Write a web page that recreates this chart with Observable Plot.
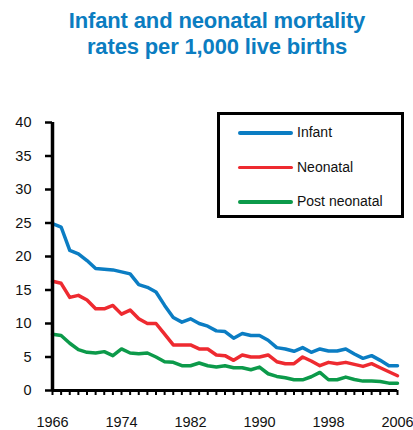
<!DOCTYPE html>
<html>
<head>
<meta charset="utf-8">
<script src="https://cdn.jsdelivr.net/npm/d3@7"></script>
<script src="https://cdn.jsdelivr.net/npm/@observablehq/plot@0.6"></script>
<style>
  html, body { margin: 0; padding: 0; background: #fff; }
  #wrap { position: relative; width: 413px; height: 430px; font-family: "Liberation Sans", Arial, sans-serif; }
  #title { position: absolute; left: 0; top: 8px; width: 434px; text-align: center; color: #0b7dc1;
           font-weight: bold; font-size: 22px; line-height: 26px; letter-spacing: -0.15px; }
  #legend { position: absolute; left: 217px; top: 112px; width: 181px; height: 100px;
            border: 3px solid #000; background: #fff; }
  .item { position: absolute; left: 18px; height: 20px; }
  .swatch { position: absolute; left: 0; top: 8px; width: 55px; height: 3.5px; border-radius: 2px; }
  .lab { position: absolute; left: 59px; top: 1px; font-size: 14px; white-space: nowrap; color: #111; }
  #chart { position: absolute; left: 0; top: 0; }
</style>
</head>
<body>
<div id="wrap">
  <div id="chart"></div>
  <div id="title"></div>
  <div id="legend"></div>
</div>
<script>
const titleLines = ["Infant and neonatal mortality", "rates per 1,000 live births"];
const years = [1966,1967,1968,1969,1970,1971,1972,1973,1974,1975,1976,1977,1978,1979,1980,
  1981,1982,1983,1984,1985,1986,1987,1988,1989,1990,1991,1992,1993,1994,1995,1996,1997,1998,
  1999,2000,2001,2002,2003,2004,2005,2006];
const infant = [24.9,24.4,20.9,20.4,19.4,18.2,18.1,18.0,17.7,17.4,15.8,15.4,14.7,12.7,10.9,10.2,10.7,10.0,9.6,
  8.9,8.8,7.8,8.5,8.2,8.2,7.5,6.4,6.2,5.85,6.4,5.7,6.2,5.9,5.9,6.2,5.45,4.8,5.2,4.5,3.7,3.7];
const neonatal = [16.3,16.0,13.9,14.2,13.5,12.2,12.2,12.7,11.4,12.0,10.7,10.0,10.0,8.4,6.8,6.8,6.8,6.2,6.2,5.3,
  5.2,4.5,5.3,5.0,5.0,5.3,4.3,4.0,4.0,5.0,4.4,3.7,4.2,4.0,4.2,3.9,3.6,4.0,3.4,2.8,2.2];
const postNeonatal = [8.4,8.2,7.05,6.1,5.7,5.6,5.8,5.2,6.2,5.6,5.5,5.6,5.0,4.3,4.2,3.7,3.7,4.1,3.7,3.5,
  3.7,3.4,3.4,3.1,3.5,2.5,2.1,1.9,1.6,1.6,2.05,2.7,1.6,1.6,2.0,1.65,1.4,1.4,1.35,1.1,1.1];
const seriesNames = ["Infant", "Neonatal", "Post neonatal"];
const seriesColors = ["#0b7dc3", "#ee2a30", "#0c9a4a"];
const yTicks = [0,5,10,15,20,25,30,35,40];
const xLabelYears = [1966,1974,1982,1990,1998,2006];

const seriesValues = [infant, neonatal, postNeonatal];
const rows = [];
seriesNames.forEach((name, i) => {
  years.forEach((yr, j) => rows.push({series: name, year: yr, value: seriesValues[i][j]}));
});

const chart = Plot.plot({
  width: 413,
  height: 430,
  marginTop: 122,
  marginBottom: 40,
  marginLeft: 52,
  marginRight: 16,
  style: {fontFamily: "'Liberation Sans', Arial, sans-serif", fontSize: "14.5px", color: "#111", background: "transparent", overflow: "visible"},
  x: {domain: [1966, 2006]},
  y: {domain: [0, 40]},
  color: {domain: seriesNames, range: seriesColors},
  marks: [
    Plot.axisY({ticks: yTicks, tickSize: 7, tickPadding: 14, strokeWidth: 2.5, stroke: "#000", fontSize: 14.5, label: null}),
    Plot.axisX({ticks: years, tickSize: 5, tickPadding: 21, strokeWidth: 2, stroke: "#000", fontSize: 14.5,
      tickFormat: d => xLabelYears.includes(d) ? String(d) : "", label: null}),
    Plot.line(rows, {x: "year", y: "value", z: "series", stroke: "series", strokeWidth: 3.5,
      strokeLinejoin: "round", strokeLinecap: "round"}),
    Plot.ruleX([1966], {y1: 0, y2: 40, stroke: "#000", strokeWidth: 3.5}),
    Plot.ruleY([0], {stroke: "#000", strokeWidth: 3})
  ]
});
document.getElementById("chart").appendChild(chart);

document.getElementById("title").innerHTML = titleLines.join("<br>");
const legend = document.getElementById("legend");
seriesNames.forEach((name, i) => {
  const item = document.createElement("div");
  item.className = "item";
  item.style.top = (8 + i * 34.5) + "px";
  item.innerHTML = `<div class="swatch" style="background:${seriesColors[i]}"></div><div class="lab">${name}</div>`;
  legend.appendChild(item);
});
</script>
</body>
</html>
